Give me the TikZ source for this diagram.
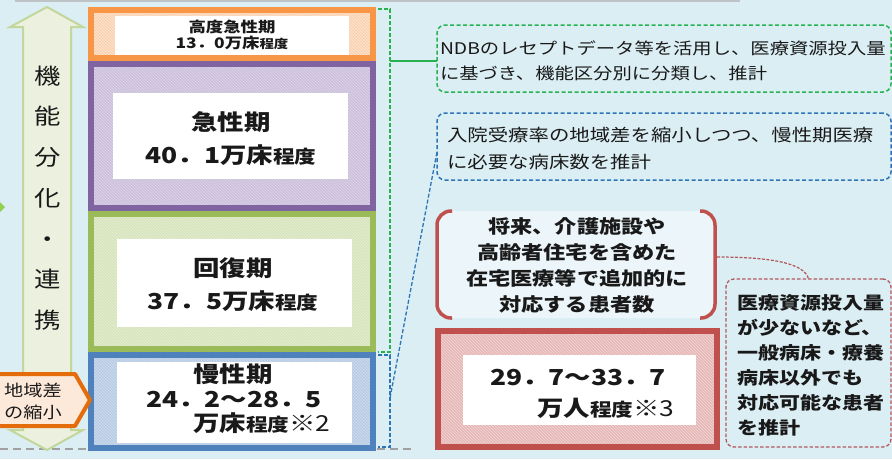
\documentclass[tikz,border=0pt]{standalone}
\usepackage{fontspec}
\setmainfont[FakeStretch=1.2]{Noto Sans CJK JP}
\usetikzlibrary{patterns}
\definecolor{bgc}{RGB}{219,238,244}
\definecolor{txt}{RGB}{25,25,25}
\definecolor{orB}{RGB}{247,150,70}
\definecolor{orF}{RGB}{250,210,176}
\definecolor{orH}{RGB}{253,232,214}
\definecolor{puB}{RGB}{128,100,162}
\definecolor{puF}{RGB}{204,192,218}
\definecolor{puH}{RGB}{222,214,234}
\definecolor{grB}{RGB}{155,187,89}
\definecolor{grF}{RGB}{214,228,188}
\definecolor{grH}{RGB}{230,239,214}
\definecolor{blB}{RGB}{79,129,189}
\definecolor{blF}{RGB}{184,204,228}
\definecolor{blH}{RGB}{208,222,239}
\definecolor{rdB}{RGB}{192,80,77}
\definecolor{rdF}{RGB}{230,184,183}
\definecolor{rdH}{RGB}{242,214,213}
\definecolor{arF}{RGB}{235,241,222}
\definecolor{arB}{RGB}{195,214,155}
\definecolor{bdF}{RGB}{253,233,217}
\definecolor{bdB}{RGB}{228,108,10}
\definecolor{gD}{RGB}{40,178,80}
\definecolor{bD}{RGB}{46,117,182}
\definecolor{rD}{RGB}{178,88,92}
\definecolor{futF}{RGB}{236,245,249}
\definecolor{gline}{RGB}{190,195,198}
\definecolor{gdash}{RGB}{160,160,160}
\definecolor{diam}{RGB}{146,208,80}
\begin{document}
\begin{tikzpicture}[x=1pt,y=-1pt,
  bigbox/.style={line width=6pt, preaction={fill=#1F}, pattern=north west lines, pattern color=#1H, draw=#1B, inner sep=0pt, outer sep=0pt},
  whitebox/.style={fill=white, inner sep=0pt, outer sep=0pt},
  txtnode/.style={inner sep=0pt, outer sep=0pt, text=txt, align=center},
  notebox/.style={rounded corners=8pt, line width=1.5pt, dash pattern=on 4pt off 2.5pt, inner sep=0pt, outer sep=0pt},
  bigfont/.style={font=\fontsize{22}{33}\selectfont\bfseries},
  bracketdash/.style={line width=1.3pt, dash pattern=on 4pt off 2pt},
]
\useasboundingbox (0,0) rectangle (892,459);
\fill[bgc] (0,0) rectangle (892,459);
% top grey rule
\draw[gline, line width=2pt] (15,1) -- (740,1);
% grey dashed base line
\draw[gdash, line width=1.5pt, dash pattern=on 8pt off 5pt] (0,449) -- (415,449);
% double arrow
\draw[fill=arF, draw=arB, line width=2pt] (47,7) -- (83,27) -- (71,27) -- (71,430) -- (83,430) -- (47,450) -- (10,430) -- (23,430) -- (23,27) -- (10,27) -- cycle;
\node[txtnode, font=\fontsize{22}{40.7}\selectfont] (vt) at (48,198) {機\\能\\分\\化\\・\\連\\携};
% green diamond at left edge
\fill[diam] (5,207) -- (-10,192) -- (-25,207) -- (-10,222) -- cycle;

% main column
\node[bigbox=or, minimum width=282pt, minimum height=48pt] (hk) at (232,34) {};
\node[whitebox, minimum width=234pt, minimum height=39pt] (hkw) at (232,35.5) {};
\node[bigbox=pu, minimum width=282pt, minimum height=144pt] (ks) at (232,136) {};
\node[whitebox, minimum width=235pt, minimum height=86pt] (ksw) at (230.5,136) {};
\node[bigbox=gr, minimum width=282pt, minimum height=135pt] (kf) at (232,281.5) {};
\node[whitebox, minimum width=235pt, minimum height=88pt] (kfw) at (234.5,283) {};
\node[bigbox=bl, minimum width=282pt, minimum height=93pt] (ms) at (232,401.5) {};
\node[whitebox, minimum width=235pt, minimum height=81pt] (msw) at (234.5,402.5) {};

\node[txtnode, font=\fontsize{14.5}{16}\selectfont\bfseries] (hkt) at (232,35) {高度急性期\\13．0万床{\fontsize{12}{16}\selectfont 程度}};
\node[txtnode, bigfont] (kst) at (231,138.5) {急性期\\40．1万床{\fontsize{18}{33}\selectfont 程度}};
\node[txtnode, bigfont] (kft) at (233,285) {回復期\\37．5万床{\fontsize{18}{33}\selectfont 程度}};
\node[txtnode, bigfont] (mst1) at (233,374) {慢性期};
\node[txtnode, bigfont] (mst2) at (234,400) {24．2～28．5};
\node[txtnode, bigfont] (mst3) at (262,423) {万床{\fontsize{18}{33}\selectfont 程度}{\mdseries ※2}};

% badge
\draw[fill=bdF, draw=bdB, line width=4pt, line join=round] (-10,374) -- (75,374) -- (90,400) -- (75,426) -- (-10,426) -- cycle;
\node[txtnode, font=\fontsize{16}{22}\selectfont] (bdt) at (33,401) {地域差\\の縮小};

% note boxes
\node[notebox, draw=gD, minimum width=454pt, minimum height=67pt] (ndb) at (664,58.5) {};
\node[txtnode, align=left, anchor=west, font=\fontsize{16.1}{25}\selectfont] (ndbt) at (440,60.5) {NDBのレセプトデータ等を活用し、医療資源投入量\\に基づき、機能区分別に分類し、推計};
\node[notebox, draw=bD, minimum width=454pt, minimum height=67pt] (chr) at (664,146.5) {};
\node[txtnode, align=left, anchor=west, font=\fontsize{17}{27}\selectfont] (chrt) at (447,148.5) {入院受療率の地域差を縮小しつつ、慢性期医療\\に必要な病床数を推計};

% brackets and connectors
\coordinate (gbt) at (378,9);
\coordinate (gbb) at (378,352);
\draw[gD, bracketdash] (gbt) -- ++(12,0) |- (gbb);
\coordinate (gbm) at (390,61);
\draw[gD, line width=1.3pt] (gbm) -- (gbm -| ndb.west);
\coordinate (bbt) at (378,355);
\coordinate (bbb) at (378,447);
\draw[bD, bracketdash] (bbt) -- ++(12,0) |- (bbb);
\coordinate (bbm) at (390,398);
\draw[bD, bracketdash] (bbm) -- ([yshift=-5.5pt]chr.west);

% future patients
\node[fill=futF, rounded corners=14pt, minimum width=278pt, minimum height=107pt, inner sep=0pt, outer sep=0pt] (fut) at (576,264.5) {};
\draw[rdB, line width=3.5pt, rounded corners=14pt] ([xshift=15pt]fut.north west) -- (fut.north west) -- (fut.south west) -- ([xshift=15pt]fut.south west);
\draw[rdB, line width=3.5pt, rounded corners=14pt] ([xshift=-15pt]fut.north east) -- (fut.north east) -- (fut.south east) -- ([xshift=-15pt]fut.south east);
\node[txtnode, font=\fontsize{18.5}{26.3}\selectfont\bfseries] (futt) at (577,265.5) {将来、介護施設や\\高齢者住宅を含めた\\在宅医療等で追加的に\\対応する患者数};

\node[bigbox=rd, minimum width=279pt, minimum height=116pt] (rbox) at (577.5,389) {};
\node[whitebox, minimum width=233pt, minimum height=70pt] (rboxw) at (579.5,390) {};
\node[txtnode, bigfont] (rv1) at (578,378) {29．7～33．7};
\node[txtnode, bigfont] (rv2) at (606,408) {万人{\fontsize{18}{33}\selectfont 程度}{\mdseries ※3}};

\node[notebox, draw=rD, dash pattern=on 3.5pt off 2pt, line width=1.3pt, minimum width=165pt, minimum height=168pt] (rdn) at (808.5,363) {};
\node[txtnode, align=left, anchor=west, font=\fontsize{17.5}{25}\selectfont\bfseries] (rdt) at (737,365.5) {医療資源投入量\\が少ないなど、\\一般病床・療養\\病床以外でも\\対応可能な患者\\を推計};
\coordinate (fr) at (717,257);
\draw[rD, line width=1.2pt, dash pattern=on 3pt off 1.5pt] (fr) .. controls (770,257) and (805,263) .. (rdn.north);
\end{tikzpicture}
\end{document}
